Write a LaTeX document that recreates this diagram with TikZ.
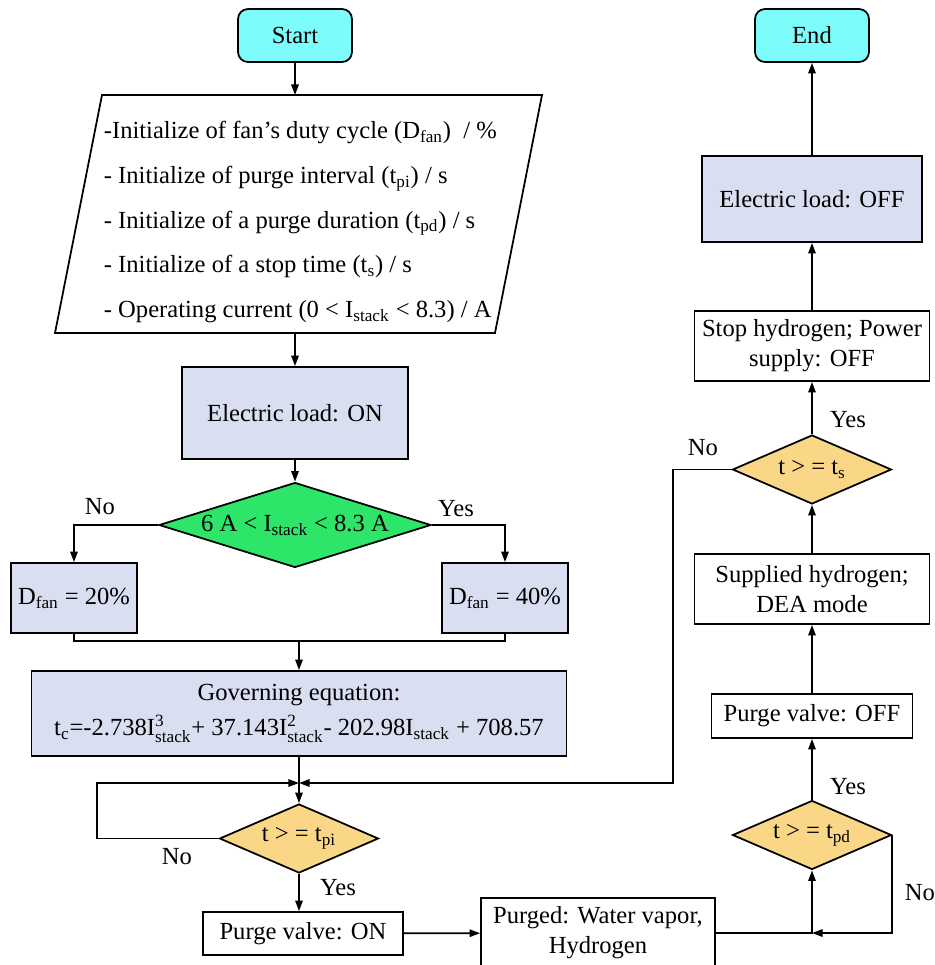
\documentclass[tikz,border=0pt]{standalone}
\usepackage{fontspec}
\setmainfont{Liberation Serif}
\usepackage{amsmath}
\usetikzlibrary{arrows.meta,shapes.geometric}

\definecolor{termcyan}{RGB}{125,252,252}
\definecolor{loadblue}{RGB}{217,223,241}
\definecolor{decgreen}{RGB}{45,230,105}
\definecolor{decgold}{RGB}{250,215,135}

\newcommand{\lsub}[1]{$_{\text{#1}}$}
\newcommand{\Ist}[1]{I$^{\text{#1}}_{\text{stack}}$}

\begin{document}
\begin{tikzpicture}[-,>={Triangle[length=6pt,width=4.2pt]},x=0.02cm,y=-0.02cm,
  line width=1pt,font=\fontsize{14}{17}\selectfont,
  term node/.style={rectangle,rounded corners=0.2cm,draw,fill=termcyan,minimum width=2.28cm,minimum height=1.06cm,inner sep=0pt},
  load node/.style={rectangle,draw,fill=loadblue,align=center,inner sep=0pt},
  plain node/.style={rectangle,draw,fill=white,align=center,inner sep=0pt},
  dec node/.style={diamond,draw,fill=decgold,shape aspect=2.3,minimum width=3.18cm,minimum height=1.38cm,inner sep=0pt},
  lab node/.style={inner sep=0pt}]

  \useasboundingbox (0,0) rectangle (935,965);

  \node[term node] (1) at (295,35.5) {Start};
  % input box
  \draw (102,95) -- (542,95) -- (495,333) -- (55,333) -- cycle;
  \coordinate (2t) at (295,95);
  \coordinate (2b) at (295,333);
  \node[align=left,anchor=west,inner sep=0pt,font=\fontsize{14}{25.5}\selectfont] (2) at (103,222)
    {-Initialize of fan’s duty cycle (D\lsub{fan})~ / \%\\
     - Initialize of purge interval (t\lsub{pi}) / s\\
     - Initialize of a purge duration (t\lsub{pd}) / s\\
     - Initialize of a stop time (t\lsub{s}) / s\\
     - Operating current (0 < I\lsub{stack} < 8.3) / A};
  \node[load node,minimum width=4.52cm,minimum height=1.84cm] (3) at (295,413) {Electric load: ON};
  \node[dec node,fill=decgreen,shape aspect=3.2,minimum width=5.44cm,minimum height=1.7cm] (4) at (295,525) {6 A < I\lsub{stack} < 8.3 A};
  \node[load node,minimum width=2.52cm,minimum height=1.4cm] (5) at (74,598) {D\lsub{fan} = 20\%};
  \node[load node,minimum width=2.52cm,minimum height=1.4cm] (6) at (505,598) {D\lsub{fan} = 40\%};
  \coordinate (7) at (299,641);
  \node[load node,minimum width=10.7cm,minimum height=1.7cm] (8) at (299,713.5)
    {Governing equation:\\[3pt] t\lsub{c}=-2.738\Ist{3}+ 37.143\Ist{2}- 202.98I\lsub{stack} + 708.57};
  \coordinate (9) at (299,783);
  \node[dec node] (10) at (299,838.5) {t > = t\lsub{pi}};
  \node[plain node,minimum width=4cm,minimum height=0.86cm] (11) at (303,933.5) {Purge valve: ON};
  \node[plain node,minimum width=4.68cm,minimum height=1.4cm] (12) at (598,933) {Purged: Water vapor,\\ Hydrogen};
  \coordinate (13) at (812,933);
  \node[dec node] (14) at (812,835) {t > = t\lsub{pd}};
  \node[plain node,minimum width=4.02cm,minimum height=0.88cm] (15) at (812,716) {Purge valve: OFF};
  \node[plain node,minimum width=4.7cm,minimum height=1.4cm] (16) at (812,589) {Supplied hydrogen;\\ DEA mode};
  \node[dec node] (17) at (812,469.5) {t > = t\lsub{s}};
  \node[plain node,minimum width=4.7cm,minimum height=1.4cm] (18) at (812,346) {Stop hydrogen; Power\\ supply: OFF};
  \node[load node,minimum width=4.4cm,minimum height=1.72cm] (19) at (812,199) {Electric load: OFF};
  \node[term node] (20) at (812,35.5) {End};
  \coordinate (21) at (673,783);

  % branch labels
  \node[lab node] (no1) at (100,507) {No};
  \node[lab node] (yes1) at (456,509) {Yes};
  \node[lab node] (no2) at (177,857) {No};
  \node[lab node] (yes2) at (338,888) {Yes};
  \node[lab node] (yes3) at (848,787) {Yes};
  \node[lab node] (no3) at (920,893) {No};
  \node[lab node] (yes4) at (848,420) {Yes};
  \node[lab node] (no4) at (703,448) {No};

  \path[->]
    (1) edge (2t)
    (2b) edge (3)
    (3) edge (4)
    (7) edge (8)
    (8) edge (10)
    (11) edge (12)
    (14) edge (15)
    (15) edge (16)
    (16) edge (17)
    (17) edge (18)
    (18) edge (19)
    (19) edge (20);
  \draw[->] (4.west) -| (5.north);
  \draw[->] (4.east) -| (6.north);
  \draw (5.south) |- (7) -| (6.south);
  \draw[->] (10.west) -- ++(-122,0) |- (9);
  \draw[->] (17.west) -| (21) -- (9);
  \draw[->] (10.south) -- (10.south |- 11.north);
  \draw[->] (12.east) -| (14.south);
  \draw[->] (14.east) |- (13);
\end{tikzpicture}
\end{document}
